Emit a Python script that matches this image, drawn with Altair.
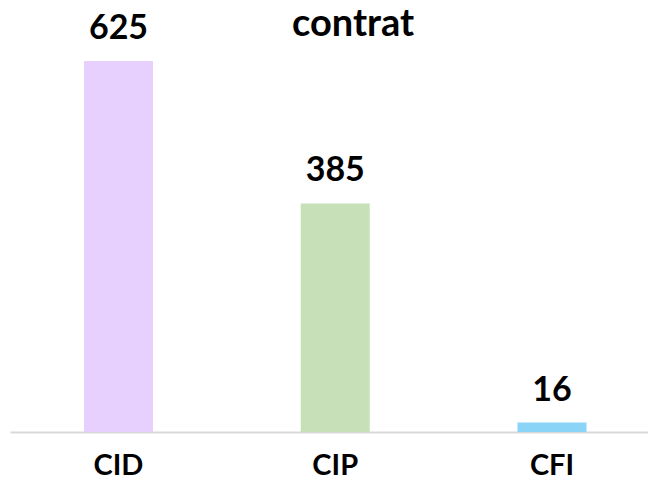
import altair as alt
import pandas as pd

categories = ["CID", "CIP", "CFI"]
values = [625, 385, 16]
colors = ["#E8D0FE", "#C8E0B8", "#8AD4F8"]
title_text = ["contrat"]

df = pd.DataFrame({"cat": categories, "val": values, "color": colors})
tdf = pd.DataFrame({"t": title_text})

FONT = "Lato"

base = alt.Chart(df).encode(
    x=alt.X("cat:N", sort=categories, title=None,
            scale=alt.Scale(paddingInner=0.6817, paddingOuter=0.3126, align=0.546),
            axis=alt.Axis(labelAngle=0, ticks=False, domainColor="#d9d9d9", domainWidth=2,
                          labelFont=FONT, labelFontSize=29, labelFontWeight="bold",
                          labelColor="#000000", labelPadding=42,
                          labelBaseline="alphabetic", grid=False)),
    y=alt.Y("val:Q", scale=alt.Scale(domain=[0, 625], nice=False), axis=None),
)

bars = base.mark_bar(size=69).encode(color=alt.Color("color:N", scale=None))
labels = base.mark_text(baseline="alphabetic", dy=-22, font=FONT, fontSize=34,
                        fontWeight="bold", color="#000000").encode(text="val:Q")

title = alt.Chart(tdf).mark_text(baseline="alphabetic", font=FONT, fontSize=38,
                                 fontWeight="bold", color="#000000").encode(
    text="t:N", x=alt.value(343), y=alt.value(-25))

chart = (bars + labels + title).properties(
    width=638, height=371,
    padding={"left": 2, "top": 53, "right": 0, "bottom": 48},
    autosize="none",
).configure_view(stroke=None)

chart.save("out.html", embed_options={"renderer": "svg", "actions": False})
